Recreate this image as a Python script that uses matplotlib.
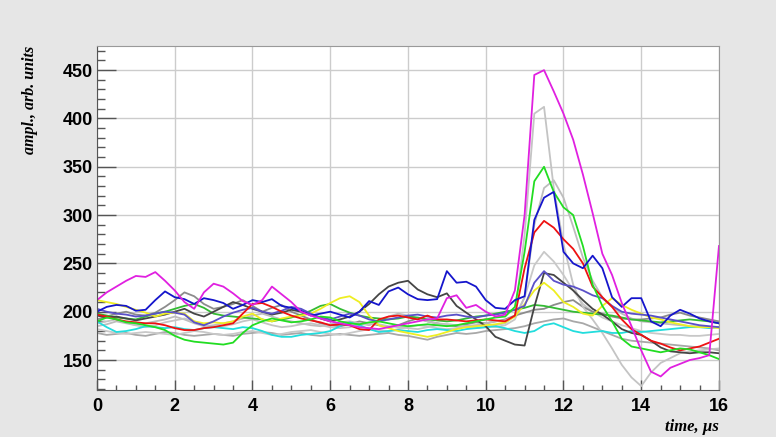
import numpy as np
import matplotlib.pyplot as plt
from matplotlib.ticker import MultipleLocator

# time axis, microseconds (sampled every 0.25 us)
t = np.arange(0, 16.01, 0.25)

magenta = [212, 220, 226, 232, 237, 236, 241, 232, 222, 210, 203, 220, 229, 226, 219, 211, 207,
           212, 226, 218, 210, 200, 196, 193, 190, 188, 186, 184, 183, 182, 184, 186, 188,
           190, 192, 193, 214, 217, 204, 207, 200, 195, 197, 222, 300, 445, 450, 428, 405,
           378, 342, 302, 260, 238, 209, 185, 160, 138, 133, 142, 146, 150, 152, 155, 268]
gray_a = [188, 190, 192, 189, 186, 184, 186, 189, 191, 193, 190, 186, 184, 185, 187, 190, 192,
          189, 186, 184, 185, 187, 188, 186, 184, 183, 184, 186, 188, 187, 185, 184, 183,
          182, 184, 186, 187, 186, 184, 183, 184, 186, 188, 196, 280, 405, 412, 328, 270,
          228, 205, 192, 178, 162, 145, 132, 123, 137, 147, 152, 157, 159, 160, 161, 162]
green_a = [190, 194, 192, 189, 188, 186, 184, 181, 175, 171, 169, 168, 167, 166, 168, 178, 186,
           190, 193, 191, 189, 190, 192, 195, 194, 190, 188, 187, 189, 190, 188, 186, 185,
           186, 187, 186, 185, 186, 188, 190, 192, 194, 195, 205, 262, 335, 350, 324, 308,
           300, 268, 228, 206, 190, 172, 164, 162, 160, 158, 160, 162, 161, 158, 155, 151]
gray_b = [185, 187, 190, 188, 186, 188, 190, 192, 195, 192, 188, 185, 186, 188, 190, 193, 196,
          198, 195, 192, 190, 188, 186, 185, 187, 189, 190, 188, 186, 190, 195, 198, 196,
          193, 190, 188, 187, 186, 185, 186, 188, 190, 191, 195, 215, 290, 328, 336, 318,
          288, 256, 232, 215, 205, 198, 193, 190, 189, 188, 187, 186, 185, 185, 184, 184]
blue = [200, 205, 207, 206, 201, 202, 212, 221, 215, 213, 208, 214, 212, 209, 203, 207, 212,
        210, 213, 206, 204, 201, 196, 198, 200, 197, 194, 200, 211, 207, 221, 225, 218,
        213, 212, 213, 242, 230, 231, 226, 212, 204, 203, 212, 216, 295, 318, 324, 262,
        250, 245, 258, 245, 215, 205, 214, 214, 190, 185, 196, 202, 198, 193, 190, 188]
red = [197, 195, 192, 190, 189, 188, 188, 186, 183, 181, 181, 183, 184, 186, 188, 198, 208,
       209, 205, 200, 196, 193, 191, 189, 186, 187, 186, 182, 181, 192, 195, 196, 194,
       192, 196, 192, 192, 191, 190, 191, 192, 191, 190, 196, 245, 282, 294, 287, 275,
       265, 250, 226, 215, 205, 192, 182, 176, 170, 167, 163, 160, 162, 164, 168, 172]
gray_c = [182, 180, 178, 177, 178, 179, 178, 177, 176, 178, 180, 179, 177, 176, 177, 179, 180,
          178, 176, 177, 179, 180, 181, 179, 177, 176, 178, 180, 182, 181, 180, 182, 184,
          186, 185, 183, 182, 183, 185, 186, 185, 184, 186, 192, 215, 248, 262, 252, 238,
          222, 208, 200, 194, 190, 186, 183, 180, 178, 177, 176, 176, 175, 175, 176, 177]
dark_gray = [196, 194, 195, 193, 191, 193, 195, 197, 200, 203, 198, 195, 200, 205, 210, 207, 203,
             200, 197, 199, 202, 200, 197, 193, 190, 192, 195, 200, 208, 218, 226, 230, 232,
             223, 218, 215, 219, 206, 199, 192, 185, 174, 170, 166, 165, 205, 240, 238, 230,
             222, 212, 203, 197, 190, 182, 178, 176, 170, 163, 159, 158, 157, 158, 158, 157]
slate = [203, 200, 198, 197, 195, 196, 198, 200, 199, 197, 189, 186, 190, 195, 199, 202, 204,
         200, 198, 201, 205, 203, 198, 194, 192, 195, 198, 196, 192, 190, 192, 194, 196,
         197, 195, 194, 196, 197, 195, 194, 196, 197, 199, 202, 206, 230, 242, 232, 228,
         226, 222, 217, 214, 206, 200, 198, 197, 196, 194, 192, 190, 188, 186, 185, 184]
yellow = [212, 210, 208, 205, 202, 199, 195, 198, 199, 198, 190, 188, 189, 188, 190, 195, 198,
          192, 190, 193, 195, 196, 198, 203, 209, 214, 216, 210, 196, 186, 183, 180, 178,
          176, 174, 176, 179, 182, 184, 185, 186, 187, 189, 195, 208, 222, 230, 222, 210,
          205, 198, 196, 206, 214, 207, 202, 198, 194, 192, 189, 187, 185, 184, 184, 183]
green_b = [198, 196, 194, 193, 192, 195, 198, 200, 203, 206, 208, 204, 198, 196, 195, 194, 193,
           192, 190, 192, 194, 197, 201, 206, 208, 203, 199, 196, 194, 193, 192, 193, 195,
           194, 192, 191, 190, 191, 193, 195, 196, 198, 200, 202, 204, 207, 206, 204, 202,
           200, 199, 198, 197, 196, 194, 192, 191, 190, 189, 190, 191, 192, 191, 190, 188]
gray_e = [192, 195, 198, 200, 197, 196, 199, 205, 212, 220, 216, 208, 203, 205, 208, 212, 206,
          200, 204, 207, 200, 196, 192, 188, 186, 185, 187, 190, 188, 186, 184, 186, 190,
          193, 190, 188, 186, 185, 187, 189, 188, 190, 192, 196, 199, 202, 203, 207, 210,
          212, 205, 200, 198, 195, 193, 192, 192, 193, 194, 197, 199, 196, 194, 192, 190]
cyan = [190, 184, 179, 180, 182, 185, 184, 183, 184, 182, 181, 183, 184, 183, 182, 184, 183,
        180, 176, 174, 174, 176, 177, 178, 180, 185, 189, 186, 182, 179, 180, 181, 180,
        179, 181, 182, 181, 180, 182, 183, 184, 185, 183, 180, 178, 180, 186, 188, 184,
        180, 178, 179, 180, 178, 178, 180, 179, 180, 181, 182, 183, 184, 184, 183, 184]
gray_f = [178, 176, 177, 178, 176, 175, 177, 179, 178, 176, 175, 176, 177, 176, 175, 177, 178,
          179, 178, 176, 177, 178, 176, 175, 176, 177, 176, 175, 176, 177, 178, 176, 175,
          173, 171, 174, 176, 178, 177, 178, 180, 181, 182, 183, 185, 188, 190, 192, 193,
          190, 188, 184, 180, 176, 172, 170, 169, 168, 167, 166, 165, 164, 163, 162, 160]

# drawing order: grey traces underneath, coloured on top
traces = [
    (gray_f, '#a8a8a8'), (gray_c, '#c8c8c8'), (gray_e, '#8c8c8c'), (gray_b, '#bdbdbd'),
    (gray_a, '#c4c4c4'), (cyan, '#22dddd'), (green_b, '#33bb33'), (dark_gray, '#454545'),
    (yellow, '#eeee22'), (slate, '#5a50c8'), (red, '#ee1111'), (green_a, '#22dd22'),
    (blue, '#1515cc'), (magenta, '#e020e0'),
]

fig = plt.figure(figsize=(7.76, 4.37), dpi=100, facecolor='#e6e6e6')
ax = fig.add_axes([0.125, 0.1076, 0.8015, 0.7872])
ax.set_facecolor('white')

for y, c in traces:
    ax.plot(t, y, color=c, lw=1.3)

ax.set_xlim(0, 16)
ax.set_ylim(119, 475)
ax.xaxis.set_major_locator(MultipleLocator(2))
ax.xaxis.set_minor_locator(MultipleLocator(0.5))
ax.yaxis.set_major_locator(MultipleLocator(50))
ax.yaxis.set_minor_locator(MultipleLocator(10))
ax.grid(True, which='major', color='#cccccc', lw=1)
ax.set_axisbelow(True)

ax.tick_params(axis='y', which='major', direction='in', length=13.5, width=1, color='#555555', pad=3)
ax.tick_params(axis='y', which='minor', direction='in', length=6, width=1, color='#555555')
ax.tick_params(axis='x', which='major', direction='in', length=7, width=1, color='#555555', pad=6)
ax.tick_params(axis='x', which='minor', direction='in', length=3.6, width=1, color='#555555')
for lab in ax.get_xticklabels() + ax.get_yticklabels():
    lab.set_fontfamily('Liberation Sans')
    lab.set_fontweight('bold')
    lab.set_fontsize(13)

for side in ['top', 'right']:
    ax.spines[side].set_color('#999999')
for side in ['left', 'bottom']:
    ax.spines[side].set_color('#555555')

fig.text(0.039, 0.895, 'ampl., arb. units', rotation=90, ha='center', va='top',
         fontfamily='Liberation Serif', fontweight='bold', fontstyle='italic', fontsize=11.5)
fig.text(0.926, 0.024, 'time, \u00b5s', ha='right', va='center',
         fontfamily='Liberation Serif', fontweight='bold', fontstyle='italic', fontsize=12)

fig.savefig('out.png', dpi=100, facecolor=fig.get_facecolor())
